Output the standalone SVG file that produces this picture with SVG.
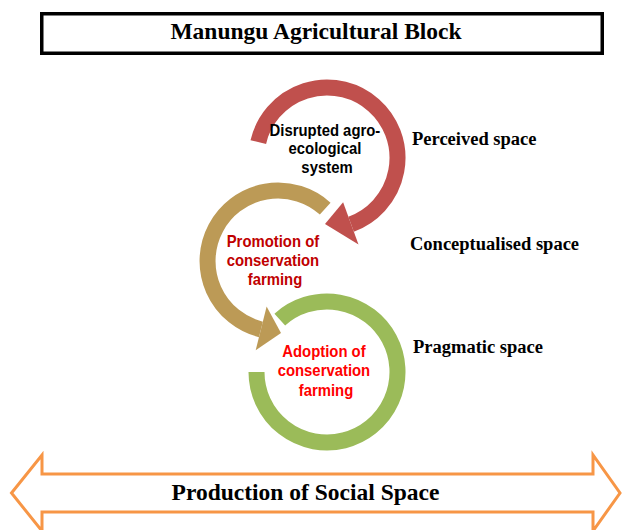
<svg xmlns="http://www.w3.org/2000/svg" width="622" height="530" viewBox="0 0 622 530">
  <style>
    .title { font-family: "Liberation Serif", "Times New Roman", serif; font-weight: bold; font-size: 23.5px; fill: #000; text-anchor: middle; }
    .space { font-family: "Liberation Serif", "Times New Roman", serif; font-weight: bold; font-size: 18.5px; fill: #000; }
    .inner { font-family: "Liberation Sans", Arial, sans-serif; font-weight: bold; font-size: 16px; text-anchor: middle; }
    .ring { fill: none; stroke-width: 16; }
  </style>
  <rect width="622" height="530" fill="#ffffff"/>

  <!-- header box -->
  <g id="header">
    <rect x="41.75" y="13.75" width="560.5" height="39.5" fill="#ffffff" stroke="#000000" stroke-width="3.5"/>
    <text class="title" x="316" y="38.5">Manungu Agricultural Block</text>
  </g>

  <!-- cycle arrows -->
  <g id="connectors">
    <!-- green ring (open at upper left) -->
    <path class="ring" stroke="#9BBB59" d="M 279.8 319.6 A 70.5 70.5 0 1 1 256.5 372"/>
    <!-- gold circular arrow, counter-clockwise -->
    <path class="ring" stroke="#BC9A56" d="M 325.2 208.6 A 70.5 70.5 0 1 0 260.9 329.4"/>
    <polygon fill="#BC9A56" points="266.6,306.6 255.7,350.3 281,333"/>
    <!-- red circular arrow, clockwise -->
    <path class="ring" stroke="#C0504D" d="M 258.3 142.1 A 70.5 70.5 0 1 1 351.1 224.2"/>
    <polygon fill="#C0504D" points="343.1,202.2 358.5,244.5 325,224"/>
  </g>

  <!-- circle captions: slightly narrowed sans text -->
  <g id="node-disrupted" transform="translate(327 0) scale(0.93 1)">
    <text class="inner" fill="#000000">
      <tspan x="0" y="136">Disrupted agro-</tspan>
      <tspan x="0" y="154.5">ecological</tspan>
      <tspan x="0" y="173">system</tspan>
    </text>
  </g>

  <g id="node-promotion" transform="translate(275 0) scale(0.93 1)">
    <text class="inner" fill="#C00000">
      <tspan x="0" y="247">Promotion of</tspan>
      <tspan x="0" y="266.5">conservation</tspan>
      <tspan x="0" y="285.5">farming</tspan>
    </text>
  </g>

  <g id="node-adoption" transform="translate(326 0) scale(0.93 1)">
    <text class="inner" fill="#FF0000">
      <tspan x="0" y="357">Adoption of</tspan>
      <tspan x="0" y="376.5">conservation</tspan>
      <tspan x="0" y="396">farming</tspan>
    </text>
  </g>

  <g id="label-perceived">
    <text class="space" x="412" y="145">Perceived space</text>
  </g>
  <g id="label-conceptualised">
    <text class="space" x="410" y="250">Conceptualised space</text>
  </g>
  <g id="label-pragmatic">
    <text class="space" x="413" y="353">Pragmatic space</text>
  </g>

  <!-- double-headed band along the bottom -->
  <g id="social-space">
    <path d="M 11.5 493 L 42 455 L 42 474 L 593 474 L 593 455 L 620 493 L 593 531 L 593 512 L 42 512 L 42 531 Z"
          fill="#ffffff" stroke="#F79646" stroke-width="3" stroke-linejoin="miter"/>
    <text class="title" x="305.5" y="500">Production of Social Space</text>
  </g>
</svg>
